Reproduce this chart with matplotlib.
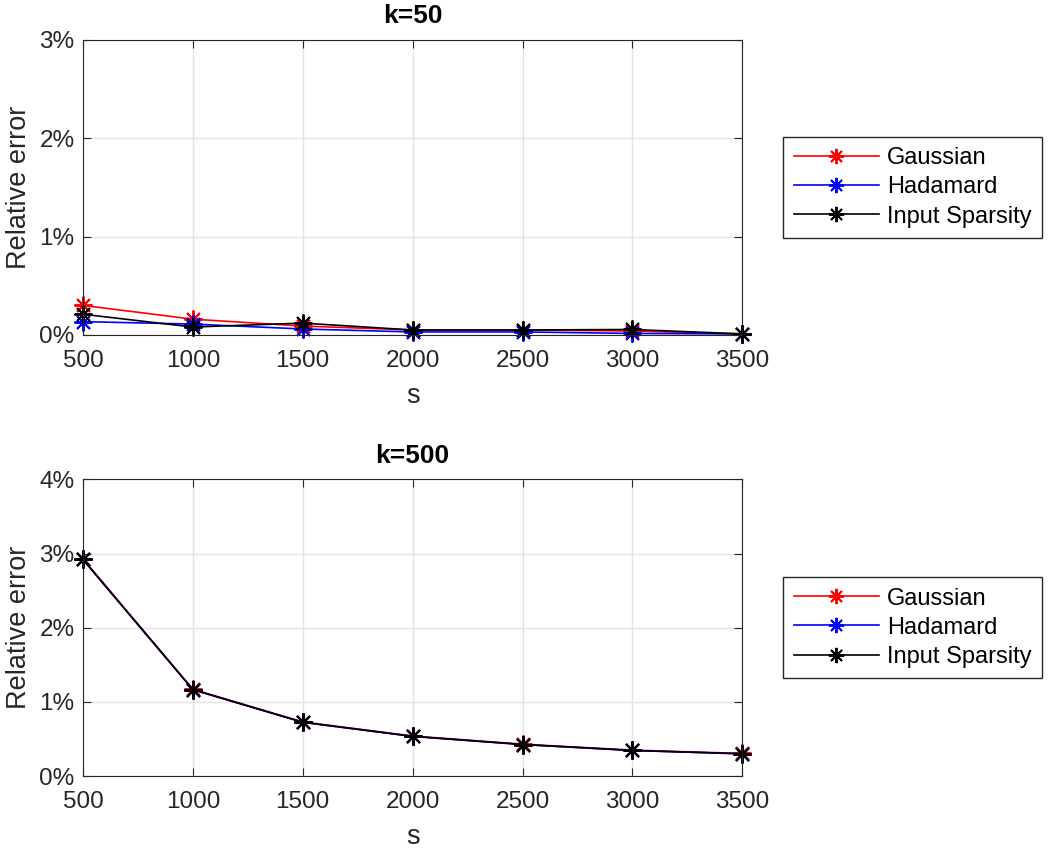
import numpy as np
import matplotlib.pyplot as plt
from matplotlib.ticker import FuncFormatter

s = [500, 1000, 1500, 2000, 2500, 3000, 3500]

# k=50, relative error in percent
gauss_50 = [0.30, 0.16, 0.09, 0.05, 0.05, 0.04, 0.01]
hada_50 = [0.135, 0.11, 0.06, 0.03, 0.03, 0.015, 0.01]
input_50 = [0.21, 0.08, 0.12, 0.05, 0.05, 0.055, 0.01]

# k=500
gauss_500 = [2.93, 1.17, 0.73, 0.54, 0.43, 0.35, 0.305]
hada_500 = [2.92, 1.165, 0.725, 0.535, 0.425, 0.345, 0.30]
input_500 = [2.92, 1.165, 0.725, 0.535, 0.425, 0.345, 0.30]

labels = ["Gaussian", "Hadamard", "Input Sparsity"]
colors = ["#ff0000", "#0000ff", "#000000"]

plt.rcParams["font.family"] = ["Liberation Sans", "DejaVu Sans"]

fig = plt.figure(figsize=(10.5, 8.5), dpi=100)
ax1 = fig.add_axes([0.079, 0.606, 0.628, 0.347])
ax2 = fig.add_axes([0.079, 0.087, 0.628, 0.349])

pct = FuncFormatter(lambda v, p: "{:d}%".format(int(round(v))))
dark = "#262626"
star = (8, 2, 0)  # matlab-like asterisk


def draw(ax, series, title, ymax):
    for ys, lab, c in zip(series, labels, colors):
        ax.plot(s, ys, color=c, lw=1.2, marker=star, markersize=13,
                markeredgewidth=1.4, label=lab, clip_on=False)
    ax.set_xlim(500, 3500)
    ax.set_ylim(0, ymax)
    ax.set_xticks(s)
    ax.set_yticks(range(0, ymax + 1))
    ax.yaxis.set_major_formatter(pct)
    ax.grid(True, color="#e3e3e3", lw=1)
    ax.set_axisbelow(True)
    ax.tick_params(direction="in", labelsize=17.5, colors=dark,
                   top=True, right=True, length=6)
    ax.tick_params(axis="x", pad=11)
    ax.tick_params(axis="y", pad=6)
    for sp in ax.spines.values():
        sp.set_color(dark)
    ax.set_title(title, fontsize=19, fontweight="bold", pad=12)
    ax.set_xlabel("s", fontsize=19.5, color=dark, labelpad=8)
    ax.set_ylabel("Relative error", fontsize=19.5, color=dark, labelpad=5)
    leg = ax.legend(loc="center left", bbox_to_anchor=(1.062, 0.5),
                    fontsize=17, fancybox=False, framealpha=1,
                    edgecolor=dark, handlelength=3.6, handletextpad=0.35,
                    borderpad=0.45, labelspacing=0.3, borderaxespad=0)
    leg.get_frame().set_linewidth(1.0)
    for h in leg.legend_handles:
        h.set_markersize(11)


draw(ax1, [gauss_50, hada_50, input_50], "k=50", 3)
draw(ax2, [gauss_500, hada_500, input_500], "k=500", 4)

fig.savefig("out.png", dpi=100)
